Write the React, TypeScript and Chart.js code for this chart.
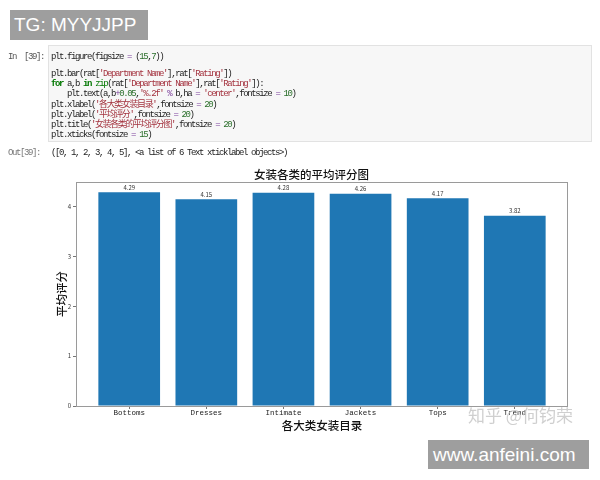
import React, { useEffect, useRef } from 'react';
import { Chart, registerables } from 'chart.js';

Chart.register(...registerables);

// ---- data ----
const categories = ['Bottoms', 'Dresses', 'Intimate', 'Jackets', 'Tops', 'Trend'];
const ratings = [4.29, 4.15, 4.28, 4.26, 4.17, 3.82];
const yTickValues = [0, 1, 2, 3, 4];

const codeLines = [
  "plt.figure(figsize = (15,7))",
  "plt.bar(rat['Department Name'],rat['Rating'])",
  "for a,b in zip(rat['Department Name'],rat['Rating']):",
  "    plt.text(a,b+0.05,'%.2f' % b,ha = 'center',fontsize = 10)",
  "plt.xlabel('各大类女装目录',fontsize = 20)",
  "plt.ylabel('平均评分',fontsize = 20)",
  "plt.title('女装各类的平均评分图',fontsize = 20)",
  "plt.xticks(fontsize = 15)",
];
const codeLineCenters = [57, 74, 84.2, 94.4, 104.6, 114.8, 125, 135.2];
const outText = "([0, 1, 2, 3, 4, 5], <a list of 6 Text xticklabel objects>)";

const CJK = '"Noto Sans CJK SC", "Noto Sans", sans-serif';
const MONO = '"Liberation Mono", "DejaVu Sans Mono", "Noto Sans CJK SC", monospace';

function highlight(line: string) {
  const re = /('[^']*')|(\b(?:for|in)\b)|(\bzip\b)|(\b\d+(?:\.\d+)?\b)|([=%+])|(\s+|[A-Za-z_]\w*|.)/g;
  const out: React.ReactNode[] = [];
  let m: RegExpExecArray | null;
  let k = 0;
  while ((m = re.exec(line)) !== null) {
    let style: React.CSSProperties = { color: '#222' };
    if (m[1]) style = { color: '#A4333F' };
    else if (m[2]) style = { color: '#007700', fontWeight: 'bold' };
    else if (m[3]) style = { color: '#007700' };
    else if (m[4]) style = { color: '#2a6e2a' };
    else if (m[5]) style = { color: '#7a3d9a' };
    out.push(
      <span key={k++} style={style}>
        {m[0]}
      </span>
    );
  }
  return out;
}

export default function App() {
  const canvasRef = useRef<HTMLCanvasElement | null>(null);

  useEffect(() => {
    if (!canvasRef.current) return;

    const framePlugin = {
      id: 'frame',
      afterDraw(chart: any) {
        const { ctx, chartArea } = chart;
        ctx.save();
        ctx.strokeStyle = '#9a9a9a';
        ctx.lineWidth = 1;
        ctx.strokeRect(
          Math.round(chartArea.left) + 0.5,
          Math.round(chartArea.top) + 0.5,
          Math.round(chartArea.right - chartArea.left) - 1,
          Math.round(chartArea.bottom - chartArea.top)
        );
        ctx.restore();
      },
    };

    const valueLabels = {
      id: 'valueLabels',
      afterDatasetsDraw(chart: any) {
        const { ctx } = chart;
        const meta = chart.getDatasetMeta(0);
        const yScale = chart.scales.y;
        ctx.save();
        ctx.fillStyle = '#333';
        ctx.font = '6px ' + CJK;
        ctx.textAlign = 'center';
        ctx.textBaseline = 'alphabetic';
        meta.data.forEach((bar: any, i: number) => {
          const y = yScale.getPixelForValue(ratings[i] + 0.05);
          ctx.fillText(ratings[i].toFixed(2), bar.x, y);
        });
        ctx.restore();
      },
    };

    const titleFont = { family: CJK, size: 11.5, weight: '500', lineHeight: 1.2 };

    const chart = new Chart(canvasRef.current, {
      type: 'bar',
      data: {
        datasets: [
          {
            data: ratings.map((v, i) => ({ x: i, y: v })),
            backgroundColor: '#1f77b4',
            borderWidth: 0,
            barPercentage: 0.8,
            categoryPercentage: 1,
          },
        ],
      },
      options: {
        animation: false,
        responsive: false,
        devicePixelRatio: 1,
        layout: { padding: { left: 55, right: 32, top: 168.1, bottom: 47.6 } },
        plugins: {
          legend: { display: false },
          tooltip: { enabled: false },
          title: {
            display: true,
            text: '女装各类的平均评分图',
            color: '#111',
            font: titleFont,
            padding: 0,
          },
        },
        scales: {
          x: {
            type: 'linear',
            min: -0.69,
            max: 5.69,
            offset: false,
            grid: {
              display: true,
              drawOnChartArea: false,
              drawTicks: true,
              tickLength: 3,
              color: '#777',
              offset: false,
            },
            border: { display: false },
            ticks: {
              stepSize: 1,
              includeBounds: false,
              autoSkip: false,
              maxRotation: 0,
              padding: 0,
              color: '#222',
              font: { family: MONO, size: 7.5 },
              callback: (v: any) => categories[v as number] ?? '',
            },
            title: {
              display: true,
              text: '各大类女装目录',
              color: '#111',
              font: titleFont,
              padding: 0,
            },
            afterFit: (s: any) => {
              s.height = 26.4;
            },
          },
          y: {
            min: 0,
            max: 4.5,
            grid: {
              display: true,
              drawOnChartArea: false,
              drawTicks: true,
              tickLength: 3,
              color: '#777',
            },
            border: { display: false },
            ticks: {
              stepSize: 1,
              includeBounds: false,
              padding: 2,
              color: '#333',
              font: { family: CJK, size: 6 },
              callback: (v: any) => (yTickValues.includes(v as number) ? String(v) : ''),
            },
            title: {
              display: true,
              text: '平均评分',
              color: '#111',
              font: titleFont,
              padding: 0,
            },
            afterFit: (s: any) => {
              s.width = 21;
            },
          },
        },
      },
      plugins: [framePlugin, valueLabels],
    } as any);

    return () => chart.destroy();
  }, []);

  const monoStyle: React.CSSProperties = {
    position: 'absolute',
    fontFamily: MONO,
    fontSize: '9px',
    letterSpacing: '-1.4px',
    lineHeight: '10px',
    whiteSpace: 'pre',
    color: '#222',
  };

  return (
    <div
      style={{
        position: 'absolute',
        left: 0,
        top: 0,
        width: 600,
        height: 480,
        background: '#fff',
        overflow: 'hidden',
      }}
    >
      <canvas
        ref={canvasRef}
        width={600}
        height={480}
        style={{ position: 'absolute', left: 0, top: 0, width: 600, height: 480 }}
      />

      {/* TG label box */}
      <div
        style={{
          position: 'absolute',
          left: 10,
          top: 10,
          width: 138,
          height: 30,
          background: '#9e9e9e',
          color: '#fff',
          fontFamily: '"Liberation Sans", Arial, sans-serif',
          fontSize: '19px',
          lineHeight: '30px',
          paddingLeft: 4,
          boxSizing: 'border-box',
        }}
      >
        TG: MYYJJPP
      </div>

      {/* code cell */}
      <div
        style={{
          position: 'absolute',
          left: 48,
          top: 45,
          width: 544,
          height: 97,
          background: '#f7f7f7',
          border: '1px solid #e2e2e2',
          boxSizing: 'border-box',
        }}
      />
      <div style={{ ...monoStyle, left: 8, top: 52, color: '#555' }}>{'In  [39]:'}</div>
      {codeLines.map((line, i) => (
        <div key={i} style={{ ...monoStyle, left: 51, top: codeLineCenters[i] - 5 }}>
          {highlight(line)}
        </div>
      ))}
      <div style={{ ...monoStyle, left: 8, top: 148, color: '#777' }}>{'Out[39]:'}</div>
      <div style={{ ...monoStyle, left: 51, top: 148 }}>{outText}</div>

      {/* watermark */}
      <div
        style={{
          position: 'absolute',
          left: 468,
          top: 405,
          fontFamily: CJK,
          fontSize: '17px',
          lineHeight: '20px',
          color: 'rgba(195,195,195,0.8)',
          whiteSpace: 'pre',
        }}
      >
        知乎 @何钧荣
      </div>

      {/* site label box */}
      <div
        style={{
          position: 'absolute',
          left: 428,
          top: 440,
          width: 161,
          height: 29,
          background: '#9e9e9e',
          color: '#fff',
          fontFamily: '"Liberation Sans", Arial, sans-serif',
          fontSize: '19px',
          lineHeight: '29px',
          paddingLeft: 5,
          boxSizing: 'border-box',
        }}
      >
        www.anfeini.com
      </div>
    </div>
  );
}
